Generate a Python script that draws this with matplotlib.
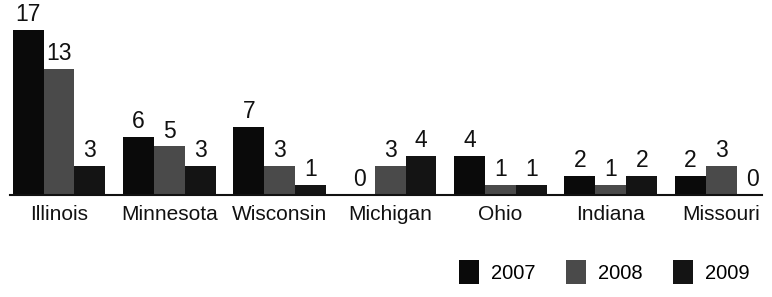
import matplotlib
matplotlib.use("Agg")
import matplotlib.pyplot as plt
import numpy as np

plt.rcParams["font.family"] = ["Liberation Sans", "DejaVu Sans"]

categories = ["Illinois", "Minnesota", "Wisconsin", "Michigan", "Ohio", "Indiana", "Missouri"]
series_names = ["2007", "2008", "2009"]
v2007 = [17, 6, 7, 0, 4, 2, 2]
v2008 = [13, 5, 3, 3, 1, 1, 3]
v2009 = [3, 3, 1, 4, 1, 2, 0]
series = [v2007, v2008, v2009]
colors = ["#0a0a0a", "#4a4a4a", "#141414"]

fig = plt.figure(figsize=(7.72, 2.97), dpi=100)
ax = fig.add_axes([10/772, 1 - 195/297, (762-10)/772, 195/297])

x = np.arange(len(categories))
w = 0.28
offsets = [-w, 0, w]
for vals, off, col, name in zip(series, offsets, colors, series_names):
    ax.bar(x + off, vals, width=w, color=col, label=name, linewidth=0)
    for xi, v in zip(x + off, vals):
        ax.text(xi, v + 0.4, str(v), ha="center", va="bottom", fontsize=16.5, color="#111111")

ax.set_xlim(-0.444, 6.37)
ax.set_ylim(0, 20.1)
for s in ["top", "right", "left"]:
    ax.spines[s].set_visible(False)
ax.spines["bottom"].set_linewidth(1.5)
ax.spines["bottom"].set_color("#111111")
ax.set_yticks([])
ax.set_xticks(x)
ax.set_xticklabels(categories, fontsize=15, color="#111111")
ax.tick_params(axis="x", length=0, pad=7)

fig.legend(loc="center right", bbox_to_anchor=(0.995, 1 - 272/297), ncol=3, frameon=False,
           fontsize=14.5, handlelength=1.0, handleheight=1.45, columnspacing=1.5, handletextpad=0.6)

fig.savefig("out.png", dpi=100)
